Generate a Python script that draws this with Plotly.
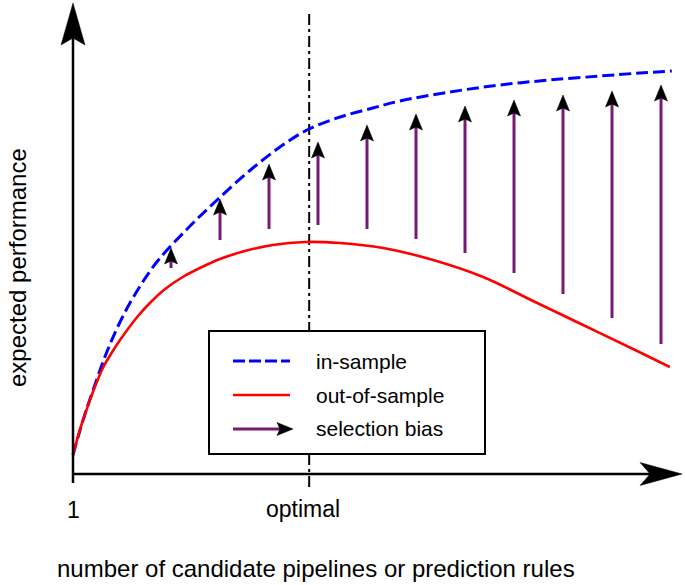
import plotly.graph_objects as go

# ---------------- data ----------------
# x: number of candidates (arbitrary units, 0 = the "1" at the origin)
# y: expected performance (arbitrary units)
blue_x = [0, 0.20, 0.41, 0.69, 0.96, 1.27, 1.71, 2.33, 2.94, 3.67, 4.37, 4.82,
          5.45, 6.12, 6.67, 7.69, 8.71, 9.73, 10.76, 11.57, 12.22]
blue_y = [4.75, 13.25, 21, 30.5, 38, 45, 53, 61.25, 68.5, 76.5, 83, 86.25,
          89.25, 91.5, 93.25, 95.5, 97.25, 98.5, 99.5, 100.25, 100.75]

red_x = [0, 0.14, 0.31, 0.47, 0.63, 0.80, 0.96, 1.31, 1.57, 1.88, 2.24, 2.59, 3.0,
         3.51, 4.08, 4.73, 5.45, 6.33, 7.35, 8.37, 9.39, 10.41, 11.43, 12.18]
red_y = [4.75, 11, 17.25, 22.5, 27, 30.5, 33.5, 39.25, 42.75, 46.25, 49.25, 51.5, 53.75,
         55.75, 57.25, 58, 57.75, 56.5, 53.5, 49.25, 43.25, 37.25, 31.25, 26.75]

arrow_x = [2, 3, 4, 5, 6, 7, 8, 9, 10, 11, 12]
arrow_top = [56.5, 68.75, 77.5, 83, 87.25, 90, 92, 93.5, 94.75, 95.75, 97.25]
arrow_bottom = [51.5, 58.5, 61.25, 62.25, 61.25, 58.75, 55.25, 50.25, 45, 39, 32.5]

optimal_x = 4.82
tick_labels = ["1", "optimal"]
legend_labels = ["in-sample", "out-of-sample", "selection bias"]
x_title = "number of candidate pipelines or prediction rules"
y_title = "expected performance"

# ---------------- layout geometry ----------------
W, H = 685, 585
X_RANGE = [-1.4898, 12.4898]
Y_RANGE = [-27.75, 118.5]
PX_PER_Y = H / (Y_RANGE[1] - Y_RANGE[0])

BLUE = "#0000ff"
RED = "#ff0000"
PURPLE = "#761a76"
FONT = "Liberation Sans, Arial, Helvetica, sans-serif"


def pxx(p):
    return p / W


def pxy(p):
    return 1 - p / H


fig = go.Figure()

# dash-dot "optimal" line
fig.add_trace(go.Scatter(x=[optimal_x, optimal_x], y=[-3.25, 115.25], mode="lines",
                         line=dict(color="black", width=2, dash="11px,4px,3px,4px"),
                         hoverinfo="skip"))

fig.add_trace(go.Scatter(x=blue_x, y=blue_y, mode="lines", name=legend_labels[0],
                         line=dict(color=BLUE, width=3, dash="12px,5px", shape="spline", smoothing=1.0)))
fig.add_trace(go.Scatter(x=red_x, y=red_y, mode="lines", name=legend_labels[1],
                         line=dict(color=RED, width=2.6, shape="spline", smoothing=1.0)))

# purple stems (end at the base of the black heads)
HEAD_H, HEAD_W, NOTCH = 16, 6.5, 3
sx, sy = [], []
for x, b, t in zip(arrow_x, arrow_bottom, arrow_top):
    sx += [x, x, None]
    sy += [b, t - (HEAD_H - NOTCH - 1) / PX_PER_Y, None]
fig.add_trace(go.Scatter(x=sx, y=sy, mode="lines", name=legend_labels[2],
                         line=dict(color=PURPLE, width=3), hoverinfo="skip"))

shapes = []
# arrowheads of the selection-bias arrows
for x, t in zip(arrow_x, arrow_top):
    shapes.append(dict(type="path", xref="x", yref="y", xsizemode="pixel", ysizemode="pixel",
                       xanchor=x, yanchor=t,
                       path=f"M0,0 L{-HEAD_W},{-HEAD_H} L0,{-(HEAD_H - NOTCH)} L{HEAD_W},{-HEAD_H} Z",
                       fillcolor="black", line=dict(color="black", width=0.5), layer="above"))

# axes
shapes.append(dict(type="line", xref="x", yref="y", x0=0, x1=0, y0=-2.25, y1=109,
                   line=dict(color="black", width=2.5), layer="above"))
shapes.append(dict(type="line", xref="x", yref="y", x0=0, x1=11.8, y0=0, y1=0,
                   line=dict(color="black", width=2.5), layer="above"))
shapes.append(dict(type="path", xref="x", yref="y", xsizemode="pixel", ysizemode="pixel",
                   xanchor=0, yanchor=117.75, path="M0,0 L-12,-42 L0,-35 L12,-42 Z",
                   fillcolor="black", line=dict(color="black", width=0.5), layer="above"))
shapes.append(dict(type="path", xref="x", yref="y", xsizemode="pixel", ysizemode="pixel",
                   xanchor=12.43, yanchor=0, path="M0,0 L-42,11.5 L-32,0 L-42,-11.5 Z",
                   fillcolor="black", line=dict(color="black", width=0.5), layer="above"))

# legend box
shapes.append(dict(type="rect", xref="paper", yref="paper", x0=pxx(209), x1=pxx(485),
                   y0=pxy(454), y1=pxy(331), fillcolor="white",
                   line=dict(color="black", width=2), layer="above"))
shapes.append(dict(type="line", xref="paper", yref="paper", x0=pxx(233), x1=pxx(290),
                   y0=pxy(361), y1=pxy(361), line=dict(color=BLUE, width=3, dash="12px,4px"),
                   layer="above"))
shapes.append(dict(type="line", xref="paper", yref="paper", x0=pxx(233), x1=pxx(290),
                   y0=pxy(395), y1=pxy(395), line=dict(color=RED, width=2.6), layer="above"))
shapes.append(dict(type="line", xref="paper", yref="paper", x0=pxx(233), x1=pxx(280),
                   y0=pxy(429), y1=pxy(429), line=dict(color=PURPLE, width=3), layer="above"))
shapes.append(dict(type="path", xref="paper", yref="paper", xsizemode="pixel", ysizemode="pixel",
                   xanchor=pxx(293), yanchor=pxy(429),
                   path="M0,0 L-16,6.5 L-13,0 L-16,-6.5 Z",
                   fillcolor="black", line=dict(color="black", width=0.5), layer="above"))

annotations = []
for label, yy in zip(legend_labels, [361, 395, 429]):
    annotations.append(dict(text=label, xref="paper", yref="paper", x=pxx(314), y=pxy(yy),
                            xanchor="left", yanchor="middle", showarrow=False,
                            font=dict(family=FONT, size=21, color="black")))
annotations.append(dict(text=tick_labels[0], xref="paper", yref="paper", x=pxx(73), y=pxy(510),
                        xanchor="center", yanchor="middle", showarrow=False,
                        font=dict(family=FONT, size=23, color="black")))
annotations.append(dict(text=tick_labels[1], xref="paper", yref="paper", x=pxx(303), y=pxy(509),
                        xanchor="center", yanchor="middle", showarrow=False,
                        font=dict(family=FONT, size=23, color="black")))
annotations.append(dict(text=x_title, xref="paper", yref="paper", x=pxx(316), y=pxy(568),
                        xanchor="center", yanchor="middle", showarrow=False,
                        font=dict(family=FONT, size=24, color="black")))
annotations.append(dict(text=y_title, xref="paper", yref="paper", x=pxx(18), y=pxy(268),
                        xanchor="center", yanchor="middle", showarrow=False, textangle=-90,
                        font=dict(family=FONT, size=24, color="black")))

fig.update_layout(
    width=W, height=H,
    margin=dict(l=0, r=0, t=0, b=0),
    paper_bgcolor="white", plot_bgcolor="white",
    showlegend=False,
    xaxis=dict(range=X_RANGE, visible=False, fixedrange=True),
    yaxis=dict(range=Y_RANGE, visible=False, fixedrange=True),
    shapes=shapes,
    annotations=annotations,
)

fig.write_html("out.html",
               config={"displayModeBar": False},
               post_script="document.documentElement.style.margin='0';"
                           "document.body.style.margin='0';document.body.style.padding='0';")
